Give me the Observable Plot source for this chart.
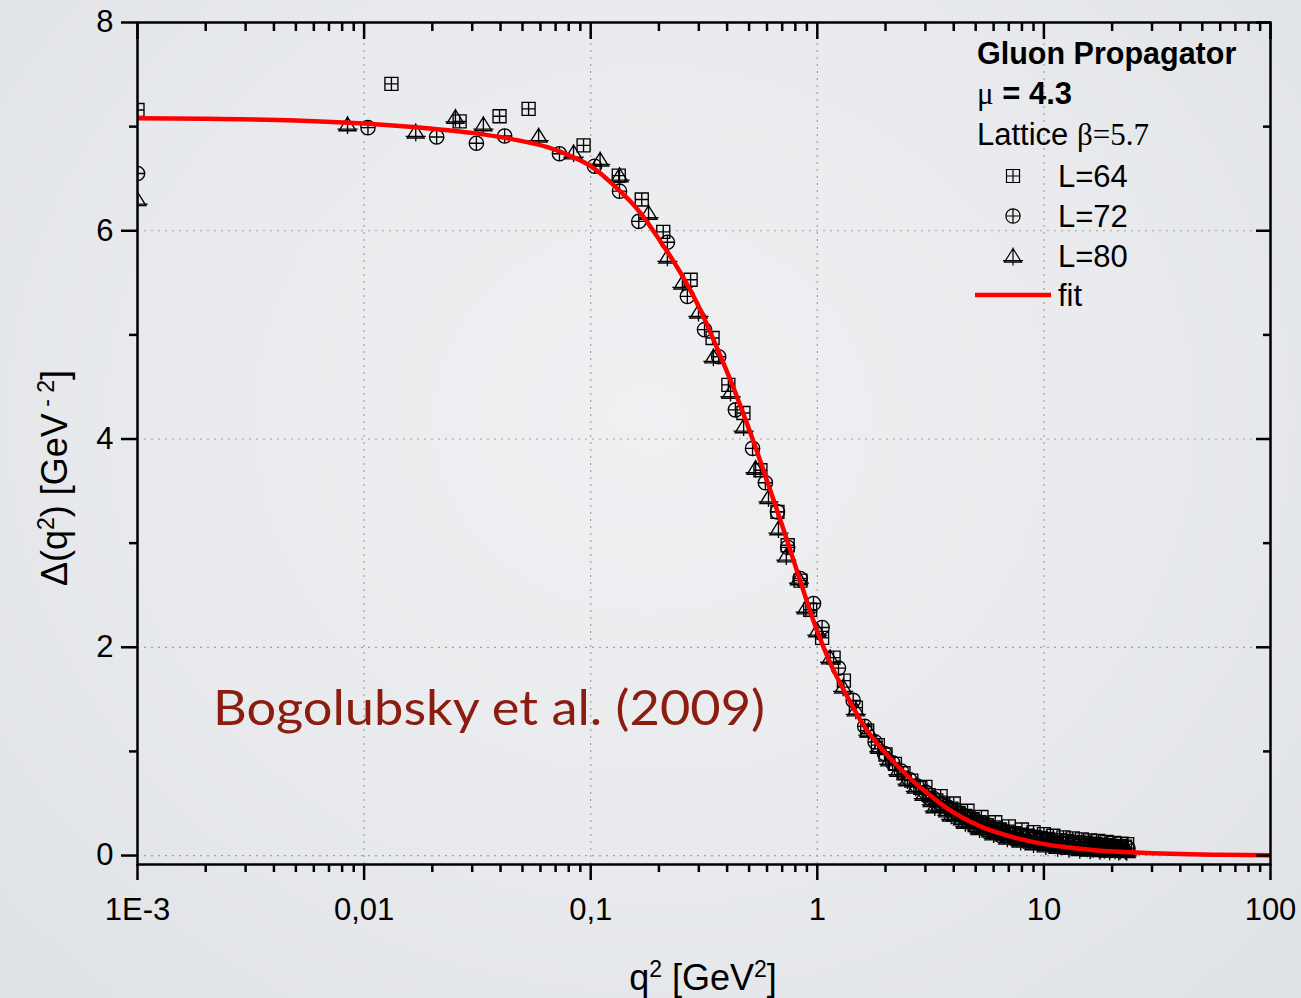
<!DOCTYPE html>
<html><head><meta charset="utf-8">
<script src="https://cdn.jsdelivr.net/npm/d3@7"></script>
<script src="https://cdn.jsdelivr.net/npm/@observablehq/plot@0.6"></script>
<style>
html,body{margin:0;padding:0;}
body{width:1301px;height:998px;overflow:hidden;position:relative;
  background: radial-gradient(ellipse at 50% 42%, #eef0f2 0%, #e8eaed 55%, #dfe2e5 100%);
  font-family:"Liberation Sans", Arial, sans-serif;}
#chart{position:absolute;left:0;top:0;}
#overlay{position:absolute;left:0;top:0;pointer-events:none;}
</style></head><body>
<div id="chart"></div>
<svg id="overlay" width="1301" height="998"></svg>
<script>
// ---------- data ----------
const fitQ = [0.001, 0.002, 0.005, 0.01, 0.02, 0.03, 0.045, 0.065, 0.085, 0.1, 0.126, 0.166, 0.2, 0.25, 0.3, 0.36, 0.42, 0.52, 0.6, 0.7, 0.84, 0.96, 1.14, 1.36, 1.6, 1.9, 2.26, 2.66, 3.16, 3.76, 5.25, 7.35, 10.4, 14, 20.3, 30, 40, 60, 100];
const fitV = [7.08, 7.075, 7.06, 7.03, 6.98, 6.94, 6.88, 6.80, 6.70, 6.62, 6.44, 6.17, 5.92, 5.59, 5.27, 4.88, 4.53, 3.99, 3.60, 3.17, 2.64, 2.26, 1.85, 1.52, 1.25, 1.04, 0.86, 0.71, 0.575, 0.45, 0.28, 0.175, 0.105, 0.068, 0.038, 0.022, 0.014, 0.007, 0.003];

const q64 = [0.001, 0.0132, 0.0264, 0.0396, 0.0532, 0.093, 0.133, 0.168, 0.209, 0.276, 0.345, 0.405, 0.472, 0.561, 0.667, 0.74, 0.843, 0.93, 1.05, 1.18, 1.31, 1.48, 1.66,
  1.85, 2.0, 2.2, 2.4, 2.6, 2.85, 3.1, 3.35, 3.6, 3.9, 4.2, 4.5, 4.85, 5.2, 5.6, 6.0, 6.4, 6.9, 7.4, 7.9, 8.5, 9.1, 9.7, 10.4, 11.1, 11.8, 12.6, 13.4, 14.2, 15.1, 16.0, 16.9, 17.8, 18.8, 19.8, 20.8, 21.8, 22.8,
  3.0, 3.5, 4.0, 4.6, 5.3, 6.1, 7.0, 8.0, 9.0, 10.0, 11.0, 12.2, 13.4, 14.7, 16.0, 17.4, 18.9, 20.4, 22.0, 23.3];
const v64 = [7.16, 7.41, 7.05, 7.10, 7.17, 6.82, 6.53, 6.30, 5.99, 5.53, 4.97, 4.52, 4.25, 3.70, 3.30, 2.98, 2.64, 2.36, 2.09, 1.90, 1.68, 1.42, 1.20,
  1.06, 0.97, 0.88, 0.79, 0.72, 0.65, 0.58, 0.53, 0.49, 0.45, 0.41, 0.38, 0.35, 0.32, 0.29, 0.27, 0.25, 0.23, 0.215, 0.20, 0.19, 0.18, 0.17, 0.16, 0.15, 0.145, 0.14, 0.13, 0.125, 0.12, 0.115, 0.11, 0.105, 0.10, 0.095, 0.09, 0.09, 0.085,
  0.66, 0.57, 0.50, 0.43, 0.37, 0.32, 0.28, 0.25, 0.225, 0.205, 0.19, 0.175, 0.165, 0.155, 0.145, 0.14, 0.13, 0.12, 0.115, 0.11];

const q72 = [0.001, 0.0104, 0.0209, 0.0313, 0.0417, 0.0728, 0.104, 0.134, 0.163, 0.218, 0.267, 0.318, 0.367, 0.435, 0.518, 0.590, 0.667, 0.74, 0.84, 0.962, 1.05, 1.24, 1.44,
  1.62, 1.8, 1.98, 2.15, 2.35, 2.55, 2.75, 3.0, 3.25, 3.5, 3.8, 4.1, 4.4, 4.75, 5.1, 5.5, 5.9, 6.3, 6.8, 7.3, 7.8, 8.4, 9.0, 9.6, 10.3, 11.0, 11.8, 12.6, 13.4, 14.3, 15.2, 16.1, 17.1, 18.1, 19.1, 20.1, 21.2, 22.3,
  3.15, 3.7, 4.3, 4.95, 5.7, 6.5, 7.45, 8.5, 9.6, 10.8, 12.1, 13.5, 15.0, 16.6, 18.3, 20.0, 21.8, 23.5];
const v72 = [6.55, 6.99, 6.90, 6.84, 6.91, 6.74, 6.62, 6.38, 6.09, 5.89, 5.37, 5.05, 4.79, 4.28, 3.91, 3.58, 3.30, 2.96, 2.66, 2.42, 2.19, 1.80, 1.49,
  1.24, 1.09, 0.98, 0.89, 0.81, 0.73, 0.67, 0.61, 0.55, 0.50, 0.46, 0.42, 0.38, 0.35, 0.32, 0.29, 0.265, 0.245, 0.225, 0.205, 0.19, 0.175, 0.16, 0.15, 0.14, 0.13, 0.12, 0.115, 0.11, 0.10, 0.095, 0.09, 0.085, 0.08, 0.078, 0.075, 0.07, 0.068,
  0.55, 0.47, 0.40, 0.34, 0.29, 0.245, 0.21, 0.18, 0.155, 0.135, 0.12, 0.11, 0.10, 0.09, 0.085, 0.08, 0.075, 0.07];

const q80 = [0.001, 0.00845, 0.0169, 0.0253, 0.0336, 0.0589, 0.084, 0.110, 0.134, 0.180, 0.218, 0.254, 0.299, 0.348, 0.414, 0.473, 0.534, 0.609, 0.674, 0.73, 0.83, 0.89, 1.0, 1.14,
  1.3, 1.48, 1.68, 1.88, 2.08, 2.28, 2.5, 2.72, 2.95, 3.2, 3.45, 3.75, 4.05, 4.35, 4.7, 5.05, 5.4, 5.8, 6.2, 6.65, 7.1, 7.6, 8.1, 8.7, 9.3, 9.9, 10.6, 11.3, 12.1, 12.9, 13.7, 14.6, 15.5, 16.5, 17.5, 18.5, 19.5, 20.6, 21.7, 22.9,
  3.3, 3.9, 4.5, 5.2, 6.0, 6.9, 7.9, 9.0, 10.2, 11.5, 12.9, 14.4, 16.0, 17.7, 19.5, 21.4, 23.2];
const v80 = [6.30, 7.02, 6.95, 7.09, 7.02, 6.91, 6.75, 6.68, 6.53, 6.17, 5.75, 5.50, 5.22, 4.79, 4.45, 4.12, 3.72, 3.44, 3.14, 2.88, 2.66, 2.38, 2.16, 1.90,
  1.62, 1.40, 1.20, 1.04, 0.92, 0.82, 0.73, 0.66, 0.59, 0.53, 0.48, 0.43, 0.39, 0.355, 0.32, 0.29, 0.265, 0.24, 0.22, 0.20, 0.185, 0.17, 0.155, 0.145, 0.135, 0.125, 0.115, 0.105, 0.098, 0.09, 0.085, 0.08, 0.075, 0.07, 0.065, 0.06, 0.058, 0.055, 0.052, 0.05,
  0.47, 0.39, 0.32, 0.26, 0.21, 0.17, 0.14, 0.115, 0.095, 0.08, 0.07, 0.06, 0.055, 0.05, 0.045, 0.042, 0.04];

const xMajor = [0.001, 0.01, 0.1, 1, 10, 100];
const xLabels = ["1E-3", "0,01", "0,1", "1", "10", "100"];
const yMajor = [0, 2, 4, 6, 8];
const yMinor = [1, 3, 5, 7];
const seriesNames = ["L=64", "L=72", "L=80"];

// ---------- helpers ----------
const rows = (qs, vs) => qs.slice(0, Math.min(qs.length, vs.length)).map((q, i) => ({q, v: vs[i]}));
const xMinor = [];
for (const d of xMajor.slice(0, -1)) for (let k = 2; k <= 9; k++) xMinor.push(d * k);
const xFmt = d => xLabels[xMajor.indexOf(d)] ?? "";

const squarePlus = {draw(c, size) { const r = Math.sqrt(size / Math.PI);
  c.moveTo(-r, -r); c.lineTo(r, -r); c.lineTo(r, r); c.lineTo(-r, r); c.closePath();
  c.moveTo(0, -r); c.lineTo(0, r); c.moveTo(-r, 0); c.lineTo(r, 0); }};
const circlePlus = {draw(c, size) { const r = Math.sqrt(size / Math.PI) * 1.1;
  c.moveTo(r, 0); c.arc(0, 0, r, 0, 2 * Math.PI);
  c.moveTo(0, -r); c.lineTo(0, r); c.moveTo(-r, 0); c.lineTo(r, 0); }};
const trianglePlus = {draw(c, size) { const r = Math.sqrt(size / Math.PI);
  c.moveTo(0, -1.15 * r); c.lineTo(1.3 * r, 0.95 * r); c.lineTo(-1.3 * r, 0.95 * r); c.closePath();
  c.moveTo(0, -1.3 * r); c.lineTo(0, 1.45 * r); c.moveTo(-1.55 * r, 0.7 * r); c.lineTo(1.55 * r, 0.7 * r); }};
const symbols = [squarePlus, circlePlus, trianglePlus];

const dotOpts = sym => ({x: "q", y: "v", symbol: sym, r: 6.5, stroke: "#000", strokeWidth: 1.35, fill: "none", clip: true});
const grid = {stroke: "#a0a0a0", strokeOpacity: 1, strokeWidth: 1.2, strokeDasharray: "2,5"};
const ax = {strokeWidth: 2.5, label: null, fontSize: 31};

const plot = Plot.plot({
  width: 1301, height: 998,
  marginLeft: 137, marginRight: 31, marginTop: 22, marginBottom: 134,
  style: {background: "transparent", fontFamily: "'Liberation Sans', Arial, sans-serif", color: "#000"},
  x: {type: "log", domain: [0.001, 100]},
  y: {domain: [-0.086, 8]},
  marks: [
    Plot.gridX(xMajor.slice(1, -1), grid),
    Plot.gridY(yMajor.slice(0, -1), grid),
    Plot.dot(rows(q64, v64), dotOpts(squarePlus)),
    Plot.dot(rows(q72, v72), dotOpts(circlePlus)),
    Plot.dot(rows(q80, v80), dotOpts(trianglePlus)),
    Plot.line(rows(fitQ, fitV), {x: "q", y: "v", stroke: "#ff0000", strokeWidth: 4.5, curve: "monotone-x", clip: true}),
    Plot.frame({stroke: "#000", strokeWidth: 2.5}),
    // bottom
    Plot.axisX(xMajor, {...ax, anchor: "bottom", tickSize: 16, tickPadding: 17, tickFormat: xFmt}),
    Plot.axisX(xMinor, {...ax, anchor: "bottom", tickSize: 8, tickFormat: () => ""}),
    // top (inward)
    Plot.axisX(xMajor, {...ax, anchor: "top", tickSize: 16, dy: 16, tickFormat: () => ""}),
    Plot.axisX(xMinor, {...ax, anchor: "top", tickSize: 8, dy: 8, tickFormat: () => ""}),
    // left
    Plot.axisY(yMajor, {...ax, anchor: "left", tickSize: 16, tickPadding: 8, tickFormat: d => String(d)}),
    Plot.axisY(yMinor, {...ax, anchor: "left", tickSize: 8, tickFormat: () => ""}),
    // right (inward)
    Plot.axisY(yMajor, {...ax, anchor: "right", tickSize: 15, dx: -15, tickFormat: () => ""}),
    Plot.axisY(yMinor, {...ax, anchor: "right", tickSize: 8, dx: -8, tickFormat: () => ""})
  ]
});
document.getElementById("chart").append(plot);

// ---------- overlay text: axis titles, legend, annotation ----------
const ov = d3.select("#overlay");
const sans = "'Liberation Sans', Arial, sans-serif";
const serif = "'Liberation Serif', 'Times New Roman', serif";

// y title
const yt = ov.append("text").attr("transform", "translate(67,478) rotate(-90)")
  .attr("text-anchor", "middle").attr("font-family", sans).attr("font-size", 36);
yt.append("tspan").text("Δ(q");
yt.append("tspan").attr("baseline-shift", "super").attr("font-size", 23).text("2");
yt.append("tspan").text(") [GeV");
yt.append("tspan").attr("baseline-shift", "super").attr("font-size", 23).text(" - 2");
yt.append("tspan").text("]");

// x title
const xt = ov.append("text").attr("x", 703).attr("y", 990)
  .attr("text-anchor", "middle").attr("font-family", sans).attr("font-size", 36);
xt.append("tspan").text("q");
xt.append("tspan").attr("baseline-shift", "super").attr("font-size", 23).text("2");
xt.append("tspan").text(" [GeV");
xt.append("tspan").attr("baseline-shift", "super").attr("font-size", 23).text("2");
xt.append("tspan").text("]");

// legend
ov.append("text").attr("x", 977).attr("y", 64).attr("font-family", sans).attr("font-size", 30.5)
  .attr("font-weight", "bold").text("Gluon Propagator");
const mu = ov.append("text").attr("x", 977).attr("y", 104).attr("font-size", 31);
mu.append("tspan").attr("font-family", serif).text("μ");
mu.append("tspan").attr("font-family", sans).attr("font-weight", "bold").text(" = 4.3");
const lat = ov.append("text").attr("x", 977).attr("y", 145).attr("font-size", 31);
lat.append("tspan").attr("font-family", sans).text("Lattice ");
lat.append("tspan").attr("font-family", serif).text("β=5.7");

seriesNames.forEach((name, i) => {
  const cy = 176 + 40 * i;
  const p = d3.path();
  symbols[i].draw(p, Math.PI * 6.5 * 6.5);
  ov.append("path").attr("transform", `translate(1013,${cy})`).attr("d", p.toString())
    .attr("fill", "none").attr("stroke", "#000").attr("stroke-width", 1.2);
  ov.append("text").attr("x", 1058).attr("y", cy + 10.5).attr("font-family", sans)
    .attr("font-size", 31).text(name);
});
ov.append("line").attr("x1", 975).attr("x2", 1051).attr("y1", 295).attr("y2", 295)
  .attr("stroke", "#ff0000").attr("stroke-width", 4.5);
ov.append("text").attr("x", 1058).attr("y", 306).attr("font-family", sans).attr("font-size", 31).text("fit");

// annotation
ov.append("text").attr("x", 213).attr("y", 725)
  .attr("font-family", "Lato, 'Open Sans', sans-serif").attr("font-size", 48)
  .attr("fill", "#8b1d10").attr("textLength", 552).attr("lengthAdjust", "spacingAndGlyphs")
  .text("Bogolubsky et al. (2009)");
</script>
</body></html>
